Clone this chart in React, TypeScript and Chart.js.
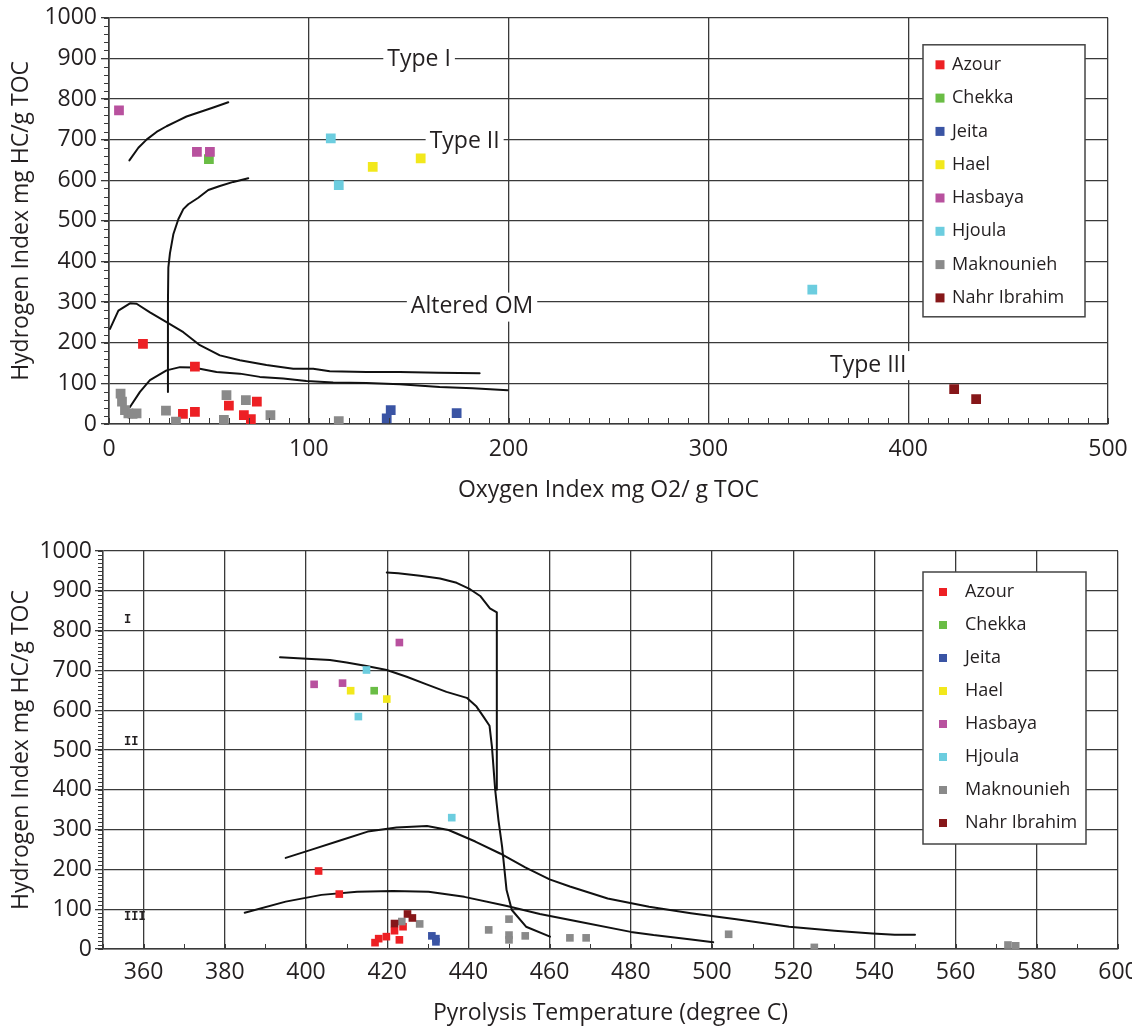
import React, { useEffect, useRef } from 'react';
import { Chart, registerables } from 'chart.js';

Chart.register(...registerables);
Chart.defaults.font.family = "'Open Sans', sans-serif";

type Pt = [number, number];

const seriesNames = ['Azour', 'Chekka', 'Jeita', 'Hael', 'Hasbaya', 'Hjoula', 'Maknounieh', 'Nahr Ibrahim'];
const seriesColors = ['#ED2024', '#6ABD45', '#3A54A4', '#F2E81C', '#B8519E', '#6CCDDF', '#8A8A8A', '#861719'];

// tick labels
const hiTicks = [0, 100, 200, 300, 400, 500, 600, 700, 800, 900, 1000];
const oiTicks = [0, 100, 200, 300, 400, 500];
const tempTicks = [360, 380, 400, 420, 440, 460, 480, 500, 520, 540, 560, 580, 600];

// ---------- Top chart: Oxygen Index (x) vs Hydrogen Index (y) ----------
const oiAzour: Pt[] = [[17, 197], [43, 141], [37, 25], [43, 30], [60, 45], [67.5, 22], [71, 12], [74, 55]];
const oiChekka: Pt[] = [[50, 652]];
const oiJeita: Pt[] = [[139, 14], [141, 34], [174, 27]];
const oiHael: Pt[] = [[132, 633], [156, 654]];
const oiHasbaya: Pt[] = [[5, 772], [44, 670], [50.5, 670]];
const oiHjoula: Pt[] = [[111, 703], [115, 588], [352, 331]];
const oiMaknounieh: Pt[] = [[5.8, 75], [6.5, 55], [8, 34], [9.7, 26], [11.8, 25], [13.8, 26], [28.5, 33], [33.5, 6], [57.5, 10], [58.8, 71], [68.5, 59], [80.8, 22], [115, 7]];
const oiNahrIbrahim: Pt[] = [[423, 86], [434, 61]];
const topSeries = [oiAzour, oiChekka, oiJeita, oiHael, oiHasbaya, oiHjoula, oiMaknounieh, oiNahrIbrahim];

const oiCurveTypeI: Pt[] = [[10.2, 649], [14.7, 680], [18.8, 700], [23.8, 719], [28.8, 733], [33.8, 745], [38.8, 757], [45.5, 768], [52.2, 779], [59.7, 792]];
const oiCurveTypeII: Pt[] = [[29.5, 79], [29.5, 300], [29.7, 385], [30.5, 420], [32.2, 467], [34.7, 504], [37.2, 529], [39.7, 541], [44.7, 557], [49.7, 576], [55.5, 586], [62.2, 596], [69.7, 605]];
const oiCurveUpper: Pt[] = [[0.5, 234], [4.7, 279], [10.5, 297], [13.8, 296], [20.5, 275], [28.8, 251], [37.2, 226], [45.5, 194], [55.5, 169], [65.5, 157], [78.8, 145], [92.2, 136], [102.2, 136], [110.5, 130], [128.8, 128], [145.5, 128], [165, 126], [185.5, 125]];
const oiCurveLower: Pt[] = [[10.5, 42], [15.5, 79], [20.5, 108], [28.8, 132], [35.5, 140], [42.2, 139], [53.8, 128], [65.5, 124], [75.5, 116], [87.2, 112], [98.8, 106], [112.2, 102], [128.8, 101], [145.5, 98], [165.5, 91], [182, 88], [199.5, 83]];
const topCurves = [oiCurveTypeI, oiCurveTypeII, oiCurveUpper, oiCurveLower];

const topLabels = [
  { text: 'Type I', x: 155.2, y: 898 },
  { text: 'Type II', x: 178, y: 696 },
  { text: 'Altered OM', x: 181.7, y: 289 },
  { text: 'Type III', x: 380, y: 145 },
];

// ---------- Bottom chart: Pyrolysis Temperature (x) vs Hydrogen Index (y) ----------
const tAzour: Pt[] = [[403.1, 196], [408.2, 138], [417, 16], [417.9, 26], [419.8, 31], [421.8, 46], [423, 23], [423.9, 56]];
const tChekka: Pt[] = [[416.8, 649]];
const tJeita: Pt[] = [[431, 33], [432, 26], [432, 18]];
const tHael: Pt[] = [[411, 649], [419.9, 628]];
const tHasbaya: Pt[] = [[402, 665], [409, 668], [423, 770]];
const tHjoula: Pt[] = [[414.9, 701], [412.9, 584], [435.9, 330]];
const tMaknounieh: Pt[] = [[423.6, 69], [428, 63], [445, 48], [450, 75], [450, 35], [450, 23], [454, 33], [465, 28], [469, 28], [504.1, 37], [525.2, 4], [572.9, 10], [574.8, 8]];
const tNahrIbrahim: Pt[] = [[421.8, 64], [425, 88], [426.2, 78]];
const bottomSeries = [tAzour, tChekka, tJeita, tHael, tHasbaya, tHjoula, tMaknounieh, tNahrIbrahim];

const tCurveTypeI: Pt[] = [[419.9, 946], [422.7, 944], [428.1, 938], [433, 931], [437.1, 920], [440.4, 904], [442.9, 887], [445.3, 856], [447, 846], [447, 400]];
const tCurveTypeII: Pt[] = [[393.6, 733], [400.2, 729], [405.9, 726], [410, 720], [414.9, 711], [419.9, 701], [424.8, 684], [429.7, 665], [434.6, 646], [439.6, 631], [442, 609], [443.7, 584], [445.2, 561], [445.8, 508], [446.6, 400], [447.4, 324], [448.3, 257], [449.4, 148], [450.7, 98], [454.2, 56], [460.1, 31]];
const tCurveUpper: Pt[] = [[395, 229], [401.2, 249], [408.2, 272], [415.2, 295], [422.3, 305], [429.8, 309], [435.1, 299], [441.7, 270], [447.8, 240], [454, 205], [460, 175], [465, 157], [474.3, 127], [484.5, 106], [494.8, 90], [506, 75], [519, 56], [530.2, 46], [539.5, 39], [545, 36], [550, 36]];
const tCurveLower: Pt[] = [[384.9, 91], [395, 119], [403.8, 136], [412.6, 144], [421.4, 146], [430.2, 144], [439, 131], [449.5, 108], [457.6, 88], [467, 69], [480, 43], [485.6, 35], [494.9, 24], [500.3, 17]];
const bottomCurves = [tCurveTypeI, tCurveTypeII, tCurveUpper, tCurveLower];

const bottomLabels = [
  { text: 'I', x: 355.2, y: 827 },
  { text: 'II', x: 355.2, y: 520 },
  { text: 'III', x: 355.2, y: 80 },
];

const GRID = '#3a3a3a';
const INK = '#231f20';

type Area = { left: number; top: number; right: number; bottom: number };

function minorTicksPlugin(xStep: number, xLen: number, yStep: number, yLen: number) {
  return {
    id: 'minorTicks',
    afterDatasetsDraw(chart: any) {
      const { ctx } = chart;
      const xs = chart.scales.x;
      const ys = chart.scales.y;
      ctx.save();
      ctx.strokeStyle = GRID;
      ctx.lineWidth = 1;
      ctx.beginPath();
      for (let v = xs.min; v <= xs.max + 1e-9; v += xStep) {
        const px = Math.round(xs.getPixelForValue(v)) + 0.5;
        ctx.moveTo(px, ys.bottom);
        ctx.lineTo(px, ys.bottom - xLen);
      }
      for (let v = ys.min; v <= ys.max + 1e-9; v += yStep) {
        const py = Math.round(ys.getPixelForValue(v)) + 0.5;
        ctx.moveTo(xs.left, py);
        ctx.lineTo(xs.left - yLen, py);
      }
      ctx.stroke();
      ctx.restore();
    },
  };
}

type LegendOpts = { dx: number; dy: number; w: number; h: number; row0: number; rowStep: number; markX: number; mark: number; textX: number };

function legendPlugin(o: LegendOpts) {
  return {
    id: 'boxLegend',
    afterDatasetsDraw(chart: any) {
      const { ctx, chartArea } = chart;
      const left = chartArea.right - o.dx;
      const top = chartArea.top + o.dy;
      ctx.save();
      ctx.fillStyle = '#fff';
      ctx.fillRect(left, top, o.w, o.h);
      ctx.strokeStyle = '#444';
      ctx.lineWidth = 1.5;
      ctx.strokeRect(left, top, o.w, o.h);
      ctx.font = "18px 'Open Sans', sans-serif";
      ctx.textBaseline = 'middle';
      ctx.textAlign = 'left';
      seriesNames.forEach((name, i) => {
        const cy = top + o.row0 + i * o.rowStep;
        ctx.fillStyle = seriesColors[i];
        ctx.fillRect(left + o.markX - o.mark / 2, cy - o.mark / 2, o.mark, o.mark);
        ctx.fillStyle = INK;
        ctx.fillText(name, left + o.textX, cy);
      });
      ctx.restore();
    },
  };
}

function textPlugin(items: { text: string; x: number; y: number }[], font: string, align: 'center' | 'left', bg: boolean) {
  return {
    id: 'textLabels',
    beforeDatasetsDraw(chart: any) {
      const { ctx } = chart;
      const xs = chart.scales.x;
      const ys = chart.scales.y;
      ctx.save();
      ctx.font = font;
      ctx.textBaseline = 'middle';
      ctx.textAlign = align;
      items.forEach((it) => {
        const px = xs.getPixelForValue(it.x);
        const py = ys.getPixelForValue(it.y);
        const w = ctx.measureText(it.text).width;
        if (bg) {
          ctx.fillStyle = '#fff';
          const lx = align === 'center' ? px - w / 2 : px;
          ctx.fillRect(lx - 4, py - 14, w + 8, 29);
        }
        ctx.fillStyle = INK;
        ctx.fillText(it.text, px, py);
      });
      ctx.restore();
    },
  };
}

type Cfg = {
  width: number;
  height: number;
  area: Area;
  series: Pt[][];
  curves: Pt[][];
  xMin: number;
  xMax: number;
  xTicks: number[];
  xTitle: string;
  xTitlePad: number;
  xTickPad: number;
  yTickPad: number;
  pointRadius: number;
  plugins: any[];
};

function makeConfig(c: Cfg): any {
  const markerSets = c.series.map((pts, i) => ({
    label: seriesNames[i],
    data: pts.map(([x, y]) => ({ x, y })),
    pointStyle: 'rect',
    pointRadius: c.pointRadius,
    pointBorderWidth: 0,
    backgroundColor: seriesColors[i],
    borderColor: seriesColors[i],
    showLine: false,
    order: -i,
  }));
  const curveSets = c.curves.map((pts) => ({
    label: '',
    data: pts.map(([x, y]) => ({ x, y })),
    showLine: true,
    borderColor: '#111',
    borderWidth: 2,
    borderJoinStyle: 'round',
    borderCapStyle: 'round',
    pointRadius: 0,
    fill: false,
    tension: 0,
    order: 10,
  }));
  return {
    type: 'scatter',
    data: { datasets: [...markerSets, ...curveSets] },
    options: {
      responsive: false,
      animation: false,
      events: [],
      layout: { padding: { left: 0, top: c.area.top, right: c.width - c.area.right, bottom: 0 } },
      plugins: { legend: { display: false }, tooltip: { enabled: false } },
      scales: {
        x: {
          type: 'linear',
          min: c.xMin,
          max: c.xMax,
          afterBuildTicks: (s: any) => {
            s.ticks = c.xTicks.map((v) => ({ value: v }));
          },
          afterFit: (s: any) => {
            s.height = c.height - c.area.bottom;
            s.paddingLeft = 0;
            s.paddingRight = 0;
          },
          grid: { color: GRID, lineWidth: 1.3, drawTicks: false },
          border: { color: GRID, width: 1.6 },
          ticks: {
            color: INK,
            font: { size: 23 },
            padding: c.xTickPad,
            maxRotation: 0,
            autoSkip: false,
            callback: (v: number) => String(v),
          },
          title: { display: true, text: c.xTitle, color: INK, font: { size: 23 }, padding: { top: 0, bottom: c.xTitlePad } },
        },
        y: {
          type: 'linear',
          min: 0,
          max: 1000,
          afterBuildTicks: (s: any) => {
            s.ticks = hiTicks.map((v) => ({ value: v }));
          },
          afterFit: (s: any) => {
            s.width = c.area.left;
          },
          grid: { color: GRID, lineWidth: 1.3, drawTicks: true, tickLength: 8 },
          border: { color: GRID, width: 1.6 },
          ticks: { color: INK, font: { size: 23 }, padding: c.yTickPad, autoSkip: false, callback: (v: number) => String(v) },
          title: { display: true, text: 'Hydrogen Index mg HC/g TOC', color: INK, font: { size: 23 }, padding: { top: 8, bottom: 0 } },
        },
      },
    },
    plugins: c.plugins,
  };
}

export default function App() {
  const topRef = useRef<HTMLCanvasElement>(null);
  const botRef = useRef<HTMLCanvasElement>(null);

  useEffect(() => {
    const top = new Chart(
      topRef.current as HTMLCanvasElement,
      makeConfig({
        width: 1132,
        height: 520,
        area: { left: 109, top: 16, right: 1108, bottom: 424 },
        series: topSeries,
        curves: topCurves,
        xMin: 0,
        xMax: 500,
        xTicks: oiTicks,
        xTitle: 'Oxygen Index mg O2/ g TOC',
        xTitlePad: 16,
        xTickPad: 12,
        yTickPad: 4,
        pointRadius: 6.9,
        plugins: [
          textPlugin(topLabels, "23px 'Open Sans', sans-serif", 'center', true),
          minorTicksPlugin(10, 6, 20, 5),
          legendPlugin({ dx: 185, dy: 27, w: 162, h: 272, row0: 20, rowStep: 33.3, markX: 17, mark: 9, textX: 29 }),
        ],
      })
    );
    const bottom = new Chart(
      botRef.current as HTMLCanvasElement,
      makeConfig({
        width: 1132,
        height: 512,
        area: { left: 103, top: 31, right: 1118, bottom: 429 },
        series: bottomSeries,
        curves: bottomCurves,
        xMin: 350,
        xMax: 600,
        xTicks: tempTicks,
        xTitle: 'Pyrolysis Temperature (degree C)',
        xTitlePad: 5,
        xTickPad: 10,
        yTickPad: 3,
        pointRadius: 5.4,
        plugins: [
          textPlugin(bottomLabels, "bold 12px 'Liberation Mono', monospace", 'left', false),
          minorTicksPlugin(10, 5, 10, 5),
          legendPlugin({ dx: 195, dy: 21, w: 163, h: 272, row0: 20, rowStep: 33, markX: 20, mark: 8, textX: 42 }),
        ],
      })
    );
    return () => {
      top.destroy();
      bottom.destroy();
    };
  }, []);

  return (
    <div style={{ position: 'absolute', left: 0, top: 0, width: 1132, height: 1032, background: '#fff' }}>
      <canvas ref={topRef} width={1132} height={520} style={{ position: 'absolute', left: 0, top: 0 }} />
      <canvas ref={botRef} width={1132} height={512} style={{ position: 'absolute', left: 0, top: 520 }} />
    </div>
  );
}
